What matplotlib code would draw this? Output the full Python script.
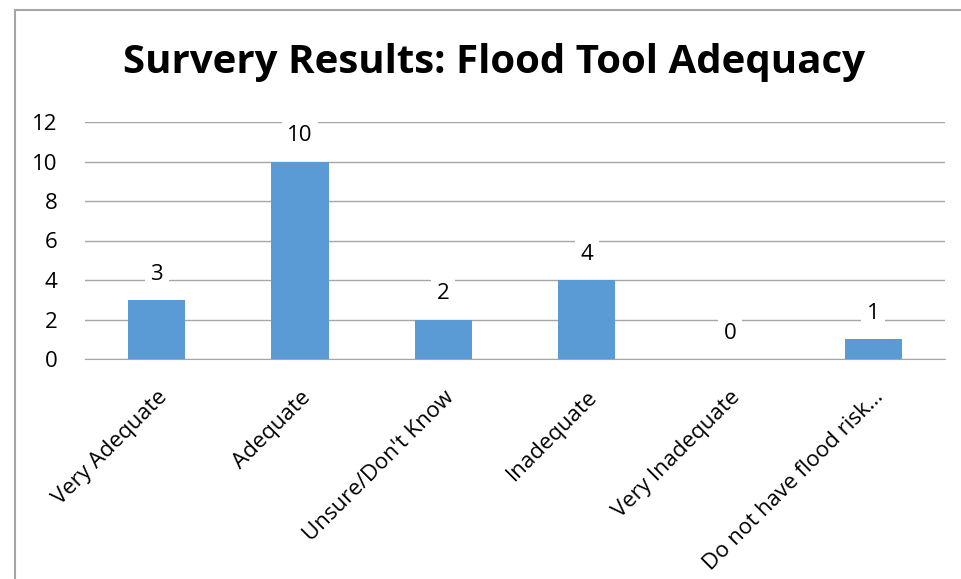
import matplotlib.pyplot as plt
from matplotlib.patches import Rectangle

categories = ['Very Adequate', 'Adequate', "Unsure/Don't Know", 'Inadequate',
              'Very Inadequate', 'Do not have flood risk\u2026']
counts = [3, 10, 2, 4, 0, 1]
yticks = [0, 2, 4, 6, 8, 10, 12]

plt.rcParams['font.family'] = ['Open Sans', 'DejaVu Sans']

W, H = 961, 579
fig = plt.figure(figsize=(W / 100, H / 100), dpi=100)
# chart border (clipped at right and bottom like the screenshot)
fig.patches.append(Rectangle((15 / W, -0.1), 1.2, 1 - 10 / H + 0.1, transform=fig.transFigure,
                             fill=False, edgecolor='#A6A6A6', linewidth=1.5))

ax = fig.add_axes([85 / W, 1 - 359 / H, (945 - 85) / W, (359 - 122) / H])
x = range(len(categories))
ax.bar(x, counts, width=0.4, color='#5B9BD5', zorder=3)
ax.set_xlim(-0.5, len(categories) - 0.5)
ax.set_ylim(0, 12)
ax.set_yticks(yticks)
ax.yaxis.grid(True, color='#A6A6A6', linewidth=1, zorder=0)
for s in ['top', 'right', 'left']:
    ax.spines[s].set_visible(False)
ax.spines['bottom'].set_color('#A6A6A6')
ax.tick_params(axis='both', length=0)
ax.tick_params(axis='y', pad=20, labelsize=16)
ax.set_xticks(list(x))
ax.set_xticklabels(categories, rotation=45, ha='right', rotation_mode='anchor')
ax.tick_params(axis='x', pad=20, labelsize=16)

for i, v in zip(x, counts):
    ax.text(i, v + 1.3, str(v), ha='center', va='center', fontsize=16, zorder=4,
            bbox=dict(facecolor='white', edgecolor='none', pad=4))

fig.text(494 / W, 1 - 62 / H, 'Survery Results: Flood Tool Adequacy', ha='center', va='center',
         fontsize=29, fontweight='bold')

fig.savefig('out.png', dpi=100)
